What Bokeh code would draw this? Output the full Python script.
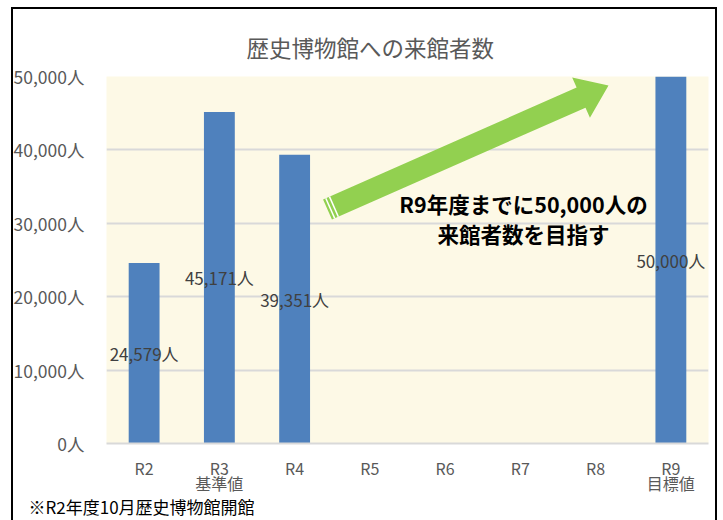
from bokeh.plotting import figure
from bokeh.models import (FactorRange, Range1d, FixedTicker, Label, CategoricalAxis, Title,
                          CustomJSTickFormatter)
from bokeh.embed import file_html
from bokeh.resources import INLINE
from bokeh.core.properties import value
import math

# ---- data ----
categories = ["R2", "R3", "R4", "R5", "R6", "R7", "R8", "R9"]
bar_years = ["R2", "R3", "R4", "R9"]
visitors = [24579, 45171, 39351, 50000]
value_labels = ["24,579人", "45,171人", "39,351人", "50,000人"]
sub_label_years = ["R3", "R9"]
sub_label_texts = ["基準値", "目標値"]
y_ticks = [0, 10000, 20000, 30000, 40000, 50000]
y_tick_labels = ["0人", "10,000人", "20,000人", "30,000人", "40,000人", "50,000人"]
title_text = "歴史博物館への来館者数"
callout_lines = ["R9年度までに50,000人の", "来館者数を目指す"]
footnote = "※R2年度10月歴史博物館開館"

FONT = "Noto Sans CJK JP"
W, H = 723, 520
FL, FR, FT, FB = 106, 708, 76, 443
YMAX = 50000

p = figure(width=W, height=H,
           x_range=FactorRange(*categories, range_padding=0),
           y_range=Range1d(0, YMAX),
           output_backend="svg", toolbar_location=None,
           min_border_left=FL, min_border_right=W - FR,
           min_border_top=FT, min_border_bottom=H - FB)

# outer frame lines drawn as page background behind a transparent border area
p.border_fill_color = None
p.styles = {
    "background": (
        "linear-gradient(#000,#000) 11px 7px / 2px 600px no-repeat, "
        "linear-gradient(#000,#000) 11px 7px / 706px 2px no-repeat, "
        "linear-gradient(#000,#000) 715px 7px / 2px 600px no-repeat, "
        "#ffffff"
    )
}

p.background_fill_color = "#FDF9E6"
p.outline_line_color = None

# title
p.title.text = title_text
p.title.align = "left"
p.title.offset = 140
p.title.standoff = 28
p.title.text_font = FONT
p.title.text_font_size = "22.5px"
p.title.text_font_style = "normal"
p.title.text_color = "#595959"

# axes
p.xaxis.axis_line_color = "#D9D9D9"
p.xaxis.axis_line_width = 2
p.xaxis.major_tick_line_color = None
p.xaxis.minor_tick_line_color = None
p.xaxis.major_label_text_font = FONT
p.xaxis.major_label_text_font_size = "16px"
p.xaxis.major_label_text_color = "#595959"
p.xaxis.major_label_standoff = 6

sub_axis = CategoricalAxis(
    axis_line_color=None, major_tick_line_color=None, minor_tick_line_color=None,
    major_label_text_font=FONT, major_label_text_font_size="16px",
    major_label_text_color="#595959", major_label_standoff=-18,
    formatter=CustomJSTickFormatter(
        args=dict(keys=sub_label_years, vals=sub_label_texts),
        code="const i = keys.indexOf(tick); return i >= 0 ? vals[i] : ' ';"))
p.add_layout(sub_axis, "below")

foot = Title(text=footnote, align="left", offset=-78, standoff=-12, text_font=FONT,
             text_font_size="17px", text_font_style="normal", text_color="black")
p.add_layout(foot, "below")

p.yaxis.axis_line_color = None
p.yaxis.major_tick_line_color = None
p.yaxis.minor_tick_line_color = None
p.yaxis.ticker = FixedTicker(ticks=y_ticks)
p.yaxis.major_label_overrides = {t: l for t, l in zip(y_ticks, y_tick_labels)}
p.yaxis.major_label_text_font = FONT
p.yaxis.major_label_text_font_size = "17.5px"
p.yaxis.major_label_text_color = "#595959"
p.yaxis.major_label_standoff = 16

p.xgrid.grid_line_color = None
p.ygrid.grid_line_color = "#D9D9D9"
p.ygrid.grid_line_width = 2
p.ygrid.ticker = FixedTicker(ticks=y_ticks)

# helpers: pixel position -> data coordinates (for annotation placement)
STEP = (FR - FL) / len(categories)
def sx(px):
    return (px - FL) / STEP
def sy(py):
    return (FB - py) / (FB - FT) * YMAX

# green arrow (annotation shape)
tail = (327, 209)
tip = (608, 85)
dx, dy = tip[0] - tail[0], tip[1] - tail[1]
L = math.hypot(dx, dy)
ux, uy = dx / L, dy / L
nx, ny = -uy, ux
head_len, head_half, shaft_half = 30, 22, 11
bx, by = tip[0] - head_len * ux, tip[1] - head_len * uy
pts = [
    (tail[0] + shaft_half * nx, tail[1] + shaft_half * ny),
    (bx + shaft_half * nx, by + shaft_half * ny),
    (bx + head_half * nx, by + head_half * ny),
    tip,
    (bx - head_half * nx, by - head_half * ny),
    (bx - shaft_half * nx, by - shaft_half * ny),
    (tail[0] - shaft_half * nx, tail[1] - shaft_half * ny),
]
p.patch([sx(a) for a, b in pts], [sy(b) for a, b in pts],
        fill_color="#92D050", line_color=None)
for d in (3, 7):
    cx, cy = tail[0] + d * ux, tail[1] + d * uy
    p.segment(x0=[sx(cx + shaft_half * nx)], y0=[sy(cy + shaft_half * ny)],
              x1=[sx(cx - shaft_half * nx)], y1=[sy(cy - shaft_half * ny)],
              line_color="white", line_width=1.5)

# bars
p.vbar(x=bar_years, top=visitors, width=0.41, fill_color="#4F81BD", line_color=None)

# data labels (centered in bars)
p.text(x=bar_years, y=[v / 2 for v in visitors], text=value_labels,
       text_align="center", text_baseline="middle",
       text_font=value(FONT), text_font_size="17px", text_color="#404040")

# callout text
for i, line in enumerate(callout_lines):
    p.add_layout(Label(x=sx(523), y=sy(203 + 30 * i), text=line, text_align="center",
                       text_baseline="middle", text_font=FONT, text_font_size="21.5px",
                       text_font_style="bold", text_color="black"))

open("out.html", "w").write(file_html(p, INLINE))
